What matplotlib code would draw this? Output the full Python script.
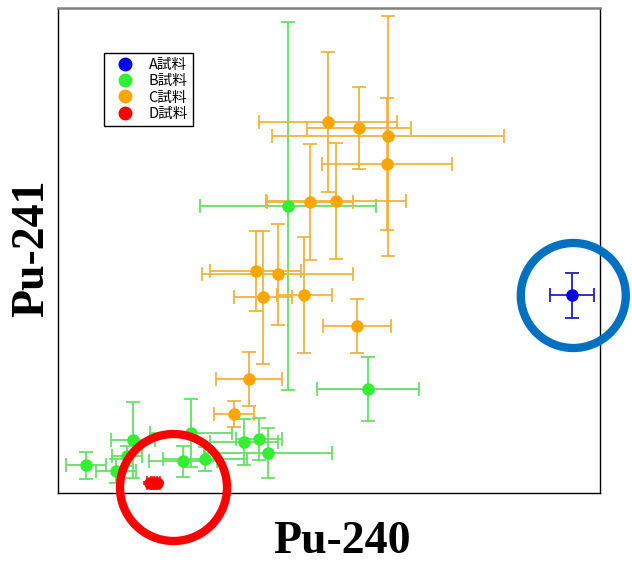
import matplotlib
matplotlib.use("Agg")
import matplotlib.pyplot as plt
from matplotlib.patches import Circle

# 値は図から読み取った相対値 (任意単位)
a_x = [514.3]
a_y = [197.7]
a_xerr = [22]
a_yerr = [22.5]

b_x = [230.3, 309.7, 27.7, 75.3, 58, 69, 133, 124.7, 147, 186, 201, 210]
b_y = [287, 103.7, 28, 53, 22.5, 37, 59.7, 32, 33.7, 51, 54, 40.5]
b_xerr = [88, 51, 20, 22, 20, 15, 41, 34, 42, 34, 23, 64]
b_yerr = [184, 32, 13.5, 38, 12, 10, 34, 15.5, 12, 23, 21, 25]

c_x = [270.3, 300.7, 330.3, 328.7, 252, 278, 197.7, 219.7, 205.3, 246, 298.7, 190.7, 176.3]
c_y = [371.3, 364.7, 357, 328.7, 291.3, 292, 222, 219, 195.7, 197.7, 167, 114.3, 79.3]
c_xerr = [69, 52, 116, 65, 43, 70, 45.5, 75.5, 29, 27.5, 34, 33, 20]
c_yerr = [70, 41, 120, 66, 58, 58, 40, 50.5, 66.7, 58, 27, 27, 13]

d_x = [92, 96, 99]
d_y = [10, 10.5, 10]
d_xerr = [3, 3, 3]
d_yerr = [1, 1, 1]

# 強調用の丸 (中心x, 中心y, 半径, 色)
highlights = [(515.3, 197.5, 52.5, "#0070C0"), (115.5, 5.5, 53.5, "#FF0000")]

plt.rcParams['font.family'] = ['Noto Sans CJK JP', 'DejaVu Sans']

fig = plt.figure(figsize=(6.32, 5.64), dpi=100)
ax = fig.add_axes([58 / 632, 71 / 564, 542 / 632, 485 / 564])

series = [
    (a_x, a_y, a_xerr, a_yerr, "#0000EE", "#2020C0", "A試料"),
    (b_x, b_y, b_xerr, b_yerr, "#33EE33", "#66E066", "B試料"),
    (c_x, c_y, c_xerr, c_yerr, "#FFA500", "#F2B33D", "C試料"),
    (d_x, d_y, d_xerr, d_yerr, "#FF0000", "#FF3030", "D試料"),
]
for xs, ys, xe, ye, col, ecol, lab in series:
    ax.errorbar(xs, ys, xerr=xe, yerr=ye, fmt="o", color=col, ecolor=ecol,
                markersize=8, elinewidth=1.3, capsize=5, capthick=1.3,
                label=lab, zorder=3)

for cx, cy, r, col in highlights:
    ax.add_patch(Circle((cx, cy), r, fill=False, edgecolor=col, linewidth=6,
                        clip_on=False, zorder=5))

ax.set_xlim(0, 542)
ax.set_ylim(0, 485)
ax.set_xticks([])
ax.set_yticks([])
ax.spines['top'].set_color("#808080")
ax.spines['top'].set_linewidth(1.8)
for s in ['left', 'right', 'bottom']:
    ax.spines[s].set_color("black")
    ax.spines[s].set_linewidth(1.0)

# 凡例 (エラーバーなしのマーカーのみ)
handles = [plt.Line2D([], [], marker="o", linestyle="", color=s[4], markersize=9)
           for s in series]
leg = ax.legend(handles, [s[6] for s in series], loc="upper left",
                bbox_to_anchor=(0.085, 0.907), borderaxespad=0, fancybox=False,
                framealpha=1, edgecolor="black", fontsize=10.5,
                handletextpad=0.5, labelspacing=0.15, borderpad=0.35,
                handlelength=2.2)
leg.get_frame().set_linewidth(1.0)

fig.text(342 / 632, 22 / 564, "Pu-240", ha="center", va="center",
         fontsize=33, fontweight="bold", family="Liberation Serif")
fig.text(32 / 632, 316 / 564, "Pu-241", ha="center", va="center", rotation=90,
         fontsize=33, fontweight="bold", family="Liberation Serif")

fig.savefig("out.png", dpi=100)
